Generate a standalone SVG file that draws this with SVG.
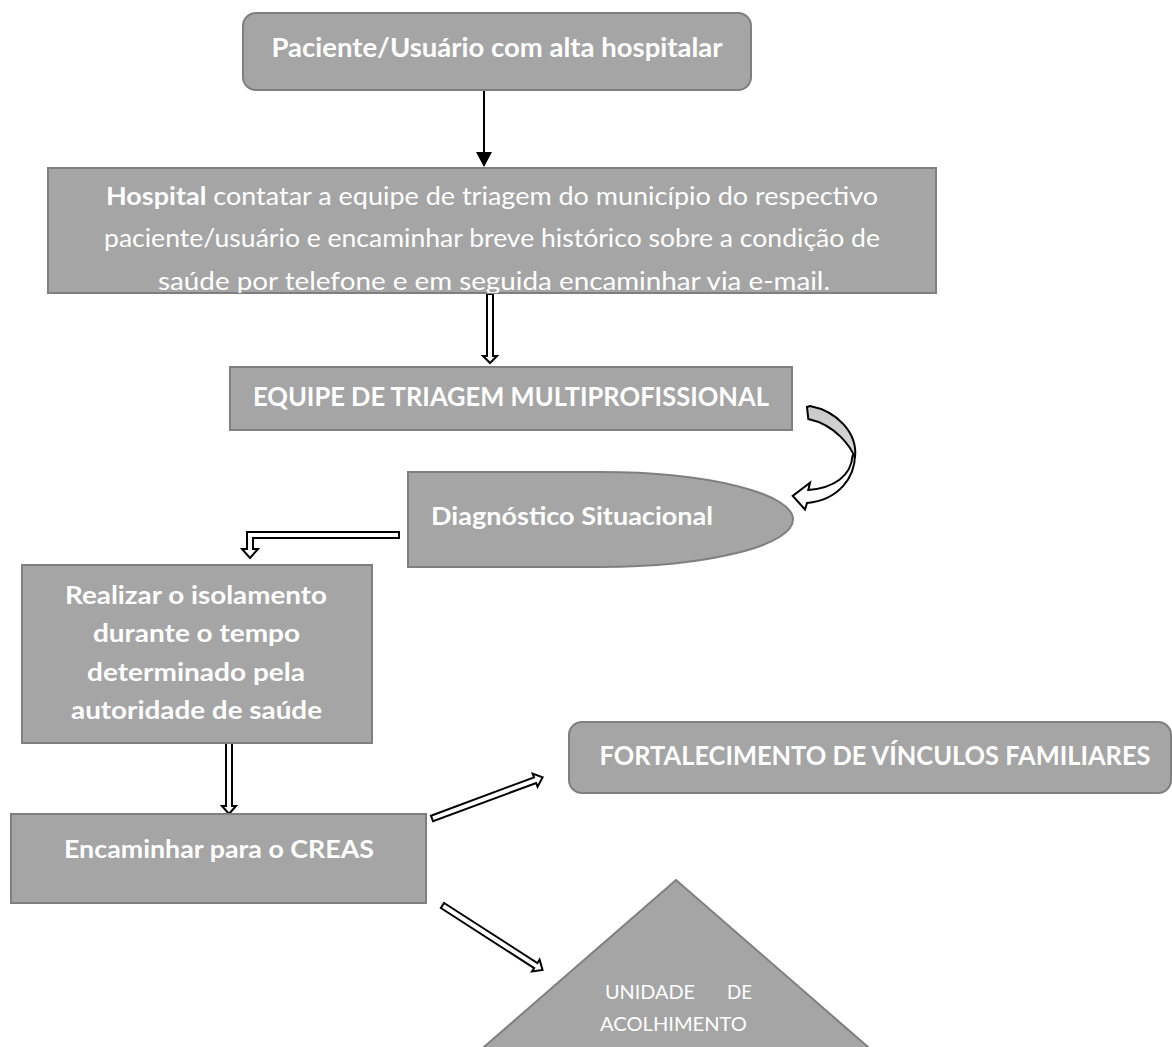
<svg xmlns="http://www.w3.org/2000/svg" width="1172" height="1047" viewBox="0 0 1172 1047">
<style>
.box{fill:#a5a5a5;stroke:#7f7f7f;stroke-width:2}
.t{fill:#fff;font-family:Lato,"Open Sans","Liberation Sans",sans-serif;text-anchor:middle}
.b{font-weight:bold}
.ha{fill:#fff;stroke:#000;stroke-width:2;stroke-linejoin:miter}
</style>
<defs>
<clipPath id="c2"><rect x="48" y="168" width="888" height="125"/></clipPath>
<linearGradient id="g1" x1="0" y1="0" x2="0" y2="1"><stop offset="0" stop-color="#c9c9c9"/><stop offset="1" stop-color="#d9d9d9"/></linearGradient>
</defs>
<rect width="1172" height="1047" fill="#fff"/>

<g id="connectors">
<line x1="484" y1="90" x2="484" y2="153" stroke="#000" stroke-width="2"/>
<polygon points="476,152 492,152 484,167" fill="#000"/>
<polygon class="ha" points="487,294 493,294 493,356 497,356 490,363 483,356 487,356"/>
<polygon class="ha" points="399,532 399,538 253,538 253,549 258,549 250,558 242,549 247,549 247,532"/>
<polygon class="ha" points="226,743 232,743 232,806 236,806 229,814 222,806 226,806"/>
<polygon class="ha" transform="translate(432,818.5) rotate(-20.4)" points="0,-3 110,-3 110,-7 118,0 110,7 110,3 0,3"/>
<polygon class="ha" transform="translate(442.5,905.5) rotate(32.8)" points="0,-3 111,-3 111,-7 119,0 111,7 111,3 0,3"/>
<path class="ha" d="M855 452 C856 478 838 500 807 503 L805 509.5 L792.7 496 L810 482.7 L808.3 490 C834 488 851 476 852.5 456 Z"/>
<path d="M807 407 L810 406 C836 411 858 432 855 458 C851 447 836 425 808.3 419 Z" fill="url(#g1)" stroke="#000" stroke-width="2" stroke-linejoin="miter"/>
</g>

<g id="n1">
<rect class="box" x="243" y="13" width="508" height="77" rx="13"/>
<text class="t b" x="497" y="57" font-size="26" textLength="451" lengthAdjust="spacingAndGlyphs">Paciente/Usuário com alta hospitalar</text>
</g>

<g id="n2">
<rect class="box" x="48" y="168" width="888" height="125"/>
<g clip-path="url(#c2)">
<text class="t" x="492" y="205" font-size="24.5" textLength="772" lengthAdjust="spacingAndGlyphs"><tspan class="b">Hospital</tspan> contatar a equipe de triagem do município do respectivo</text>
<text class="t" x="492" y="247" font-size="24.5" textLength="776" lengthAdjust="spacingAndGlyphs">paciente/usuário e encaminhar breve histórico sobre a condição de</text>
<text class="t" x="494" y="289.5" font-size="24.5" textLength="672" lengthAdjust="spacingAndGlyphs">saúde por telefone e em seguida encaminhar via e-mail.</text>
</g>
</g>

<g id="n3">
<rect class="box" x="230" y="367" width="562" height="63"/>
<text class="t b" x="511" y="406" font-size="26" textLength="516" lengthAdjust="spacingAndGlyphs">EQUIPE DE TRIAGEM MULTIPROFISSIONAL</text>
</g>

<g id="n4">
<path class="box" d="M408 472 H600.5 A192.5 47.5 0 0 1 600.5 567 H408 Z"/>
<text class="t b" x="572" y="525" font-size="25" textLength="282" lengthAdjust="spacingAndGlyphs">Diagnóstico Situacional</text>
</g>

<g id="n5">
<rect class="box" x="22" y="565" width="350" height="178"/>
<text class="t b" x="196" y="604" font-size="24.5" textLength="262" lengthAdjust="spacingAndGlyphs">Realizar o isolamento</text>
<text class="t b" x="196.5" y="642" font-size="24.5" textLength="207" lengthAdjust="spacingAndGlyphs">durante o tempo</text>
<text class="t b" x="196" y="681" font-size="24.5" textLength="218" lengthAdjust="spacingAndGlyphs">determinado pela</text>
<text class="t b" x="196.5" y="719" font-size="24.5" textLength="251" lengthAdjust="spacingAndGlyphs">autoridade de saúde</text>
</g>

<g id="n6">
<rect class="box" x="11" y="814" width="415" height="89"/>
<text class="t b" x="219" y="858" font-size="25" textLength="310" lengthAdjust="spacingAndGlyphs">Encaminhar para o CREAS</text>
</g>

<g id="n7">
<rect class="box" x="569" y="722" width="602" height="71" rx="13"/>
<text class="t b" x="875" y="765" font-size="26" textLength="551" lengthAdjust="spacingAndGlyphs">FORTALECIMENTO DE VÍNCULOS FAMILIARES</text>
</g>

<g id="n8">
<polygon class="box" points="676,880 883,1060 469,1060"/>
<text class="t" x="650" y="999" font-size="20" textLength="90" lengthAdjust="spacingAndGlyphs">UNIDADE</text>
<text class="t" x="739.5" y="999" font-size="20" textLength="25" lengthAdjust="spacingAndGlyphs">DE</text>
<text class="t" x="673.5" y="1031" font-size="20" textLength="147" lengthAdjust="spacingAndGlyphs">ACOLHIMENTO</text>
</g>
</svg>
